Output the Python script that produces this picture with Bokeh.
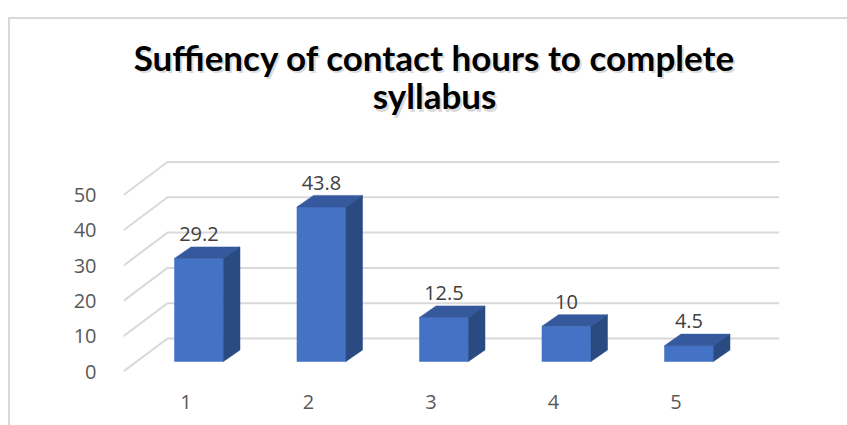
from bokeh.plotting import figure
from bokeh.models import FixedTicker, Range1d, ColumnDataSource, InlineStyleSheet
from bokeh.core.properties import value
from bokeh.embed import file_html
from bokeh.resources import INLINE

# ---- data ----
categories = [1, 2, 3, 4, 5]
values = [29.2, 43.8, 12.5, 10, 4.5]
y_ticks = [0, 10, 20, 30, 40, 50]
title_lines = ["Suffiency of contact hours to complete", "syllabus"]

# ---- 3D projection constants (data units) ----
FX, FY = 0.106, 2.83   # bar front face sits behind the front plane
DX, DY = 0.135, 3.26   # bar depth
WX, WY = 0.359, 9.35   # back wall depth
HW = 0.2               # half bar width

X0, X1 = 0.49, 5.845
Y0, Y1 = 0.0, 105.1

FRONT = "#4472c4"
TOP = "#35599c"
SIDE = "#2a4a82"
GRID = "#d9d9d9"

p = figure(width=847, height=425, output_backend="svg", toolbar_location=None,
           x_range=Range1d(X0, X1), y_range=Range1d(Y0, Y1),
           min_border_left=123, min_border_right=68,
           min_border_top=0, min_border_bottom=54)
p.outline_line_color = None
p.grid.visible = False
p.background_fill_color = "white"
p.border_fill_color = "white"

# walls / gridlines
gx = [[X0, X0 + WX, X1] for t in y_ticks]
gy = [[t, t + WY, t + WY] for t in y_ticks]
p.multi_line(gx, gy, line_color=GRID, line_width=2)

# bars
L = [c + FX - HW for c in categories]
R = [c + FX + HW for c in categories]
T = [v + FY for v in values]
src = ColumnDataSource(dict(left=L, right=R, top=T, bottom=[FY] * len(values)))
p.quad(left="left", right="right", top="top", bottom="bottom", source=src,
       fill_color=FRONT, line_color=FRONT, line_width=0.5)

top_xs = [[l, r, r + DX, l + DX] for l, r in zip(L, R)]
top_ys = [[t, t, t + DY, t + DY] for t in T]
p.patches(top_xs, top_ys, fill_color=TOP, line_color=TOP, line_width=0.5)

side_xs = [[r, r + DX, r + DX, r] for r in R]
side_ys = [[FY, FY + DY, t + DY, t] for t in T]
p.patches(side_xs, side_ys, fill_color=SIDE, line_color=SIDE, line_width=0.5)

# data labels
lab = ColumnDataSource(dict(x=[c + FX for c in categories],
                            y=[v + FY + 6.9 for v in values],
                            t=[f"{v:g}" for v in values]))
p.text(x="x", y="y", text="t", source=lab, text_align="center",
       text_baseline="middle", text_font=value("Open Sans"),
       text_font_size="20px", text_color="#404040")

# title (two lines, with faint shadow)
TX = 3.03
TY = [89.0, 78.2]
for dx, dy, col, alpha in [(0.016, -0.6, "#7f7f7f", 0.3), (0, 0, "#000000", 1.0)]:
    p.text(x=[TX + dx] * 2, y=[t + dy for t in TY], text=title_lines,
           text_align="center", text_baseline="alphabetic",
           text_font=value("Lato"), text_font_style="bold",
           text_font_size="35px", text_color=col, text_alpha=alpha)

# axes
p.yaxis.ticker = FixedTicker(ticks=y_ticks)
p.xaxis.ticker = FixedTicker(ticks=categories)
for ax in (p.xaxis, p.yaxis):
    ax.axis_line_color = None
    ax.major_tick_line_color = None
    ax.minor_tick_line_color = None
    ax.major_label_text_font = "Open Sans"
    ax.major_label_text_font_size = "20px"
    ax.major_label_text_color = "#595959"
p.yaxis.major_label_standoff = 21
p.xaxis.major_label_standoff = 17

# chart-area border (top and left edges visible)
p.stylesheets = [InlineStyleSheet(css=(
    ":host { position: relative; }"
    ":host::after { content: ''; position: absolute; left: 8px; top: 17px;"
    " right: 0; bottom: 0; border-top: 2px solid #d9d9d9;"
    " border-left: 2px solid #d9d9d9; pointer-events: none; }"))]

open("out.html", "w").write(file_html(p, INLINE))
